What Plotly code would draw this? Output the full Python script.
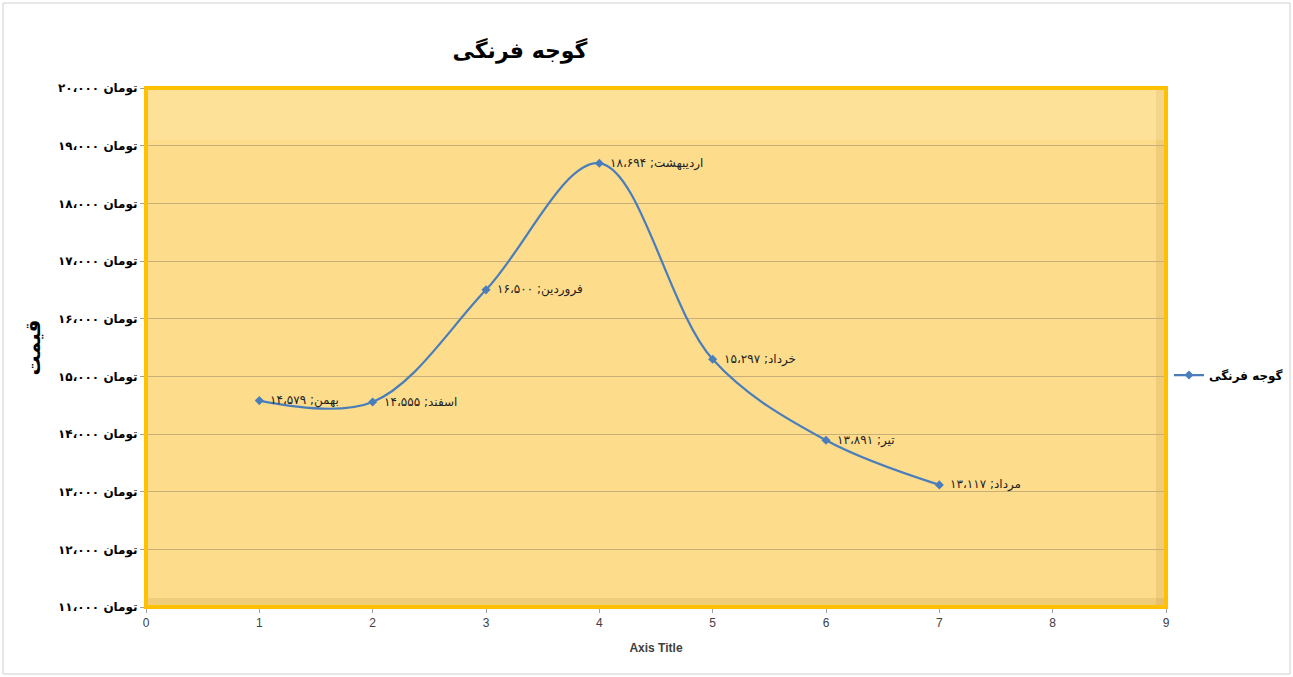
import plotly.graph_objects as go

# ---- data ----
months = ["بهمن", "اسفند", "فروردین", "اردیبهشت", "خرداد", "تیر", "مرداد"]
x_pos = [1, 2, 3, 4, 5, 6, 7]
prices = [14579, 14555, 16500, 18694, 15297, 13891, 13117]
y_ticks = [11000, 12000, 13000, 14000, 15000, 16000, 17000, 18000, 19000, 20000]
x_ticks = [0, 1, 2, 3, 4, 5, 6, 7, 8, 9]
series_name = "گوجه فرنگی"
chart_title = "گوجه فرنگی"
y_title = "قیمت"
x_title = "Axis Title"
currency = "تومان"

FA = str.maketrans("0123456789,", "۰۱۲۳۴۵۶۷۸۹،")


def fa(n):
    return f"{n:,}".translate(FA)


labels = [f"{m}; {fa(v)}" for m, v in zip(months, prices)]
# LTR embedding: number on the left, currency word on the right (as in the reference)
y_ticktext = [f"\u202a{fa(v)} {currency}\u202c" for v in y_ticks]

W, H = 1293, 677
L, R, T, B = 146, 127, 88, 70
pw, ph = W - L - R, H - T - B

fig = go.Figure()
fig.add_trace(go.Scatter(
    x=x_pos, y=prices, mode="lines+markers", name=series_name,
    line=dict(color="#4A7EBB", width=2.25, shape="spline", smoothing=1.0),
    marker=dict(symbol="diamond", size=7, color="#4A7EBB"),
    cliponaxis=False,
))

annotations = [
    dict(x=xv, y=yv, text=t, showarrow=False, xanchor="left", yanchor="middle",
         xshift=9, font=dict(family="DejaVu Sans", size=12, color="#222222"))
    for xv, yv, t in zip(x_pos, prices, labels)
]


def px_x(p):
    return (p - L) / pw


def px_y(p):
    return (H - B - p) / ph


shapes = [
    # outer chart border
    dict(type="rect", xref="paper", yref="paper",
         x0=px_x(3), x1=px_x(1290), y0=px_y(674), y1=px_y(3),
         line=dict(color="#D0D0D0", width=1), fillcolor="rgba(0,0,0,0)", layer="below"),
    # subtle bevel shading (right and bottom)
    dict(type="rect", xref="paper", yref="paper", x0=px_x(1156), x1=1, y0=0, y1=1,
         line=dict(width=0), fillcolor="rgba(200,160,70,0.25)", layer="below"),
    dict(type="rect", xref="paper", yref="paper", x0=0, x1=1, y0=0, y1=px_y(598),
         line=dict(width=0), fillcolor="rgba(200,160,70,0.25)", layer="below"),
    # lighter top band
    dict(type="rect", xref="paper", yref="paper", x0=0, x1=1, y0=px_y(140), y1=1,
         line=dict(width=0), fillcolor="rgba(255,240,190,0.25)", layer="below"),
    # gold plot border
    dict(type="rect", xref="paper", yref="paper", x0=0, x1=1, y0=0, y1=1,
         line=dict(color="#FFC000", width=4), fillcolor="rgba(0,0,0,0)", layer="above"),
]

fig.update_layout(
    width=W, height=H,
    margin=dict(l=L, r=R, t=T, b=B, autoexpand=False),
    paper_bgcolor="white",
    plot_bgcolor="#FDDC8C",
    shapes=shapes,
    annotations=annotations,
    title=dict(text=f"<b>{chart_title}</b>", xref="paper", x=px_x(520), xanchor="center",
               yref="container", y=1 - 50 / H, yanchor="middle",
               font=dict(family="DejaVu Sans", size=22, color="black")),
    xaxis=dict(range=[0, 9], tickvals=x_ticks, showgrid=False, zeroline=False,
               ticks="outside", ticklen=5, tickcolor="#A0A0A0",
               tickfont=dict(family="Liberation Sans", size=12, color="#404040"),
               showline=False,
               title=dict(text=f"<b>{x_title}</b>", standoff=14,
                          font=dict(family="Liberation Sans", size=12, color="#404040"))),
    yaxis=dict(range=[11000, 20000], tickvals=y_ticks, ticktext=y_ticktext,
               showgrid=True, gridcolor="#C8AF78", gridwidth=1, zeroline=False,
               ticks="outside", ticklen=5, tickcolor="#A0A0A0",
               tickfont=dict(family="DejaVu Sans", size=12, color="black", weight="bold"),
               title=dict(text=f"<b>{y_title}</b>", standoff=12,
                          font=dict(family="DejaVu Sans", size=20, color="black"))),
    showlegend=True,
    legend=dict(x=px_x(1288), y=px_y(375), xanchor="right", yanchor="middle",
                bgcolor="rgba(0,0,0,0)", itemwidth=30,
                font=dict(family="DejaVu Sans", size=12, color="black", weight="bold")),
)

fig.write_html("out.html", config={"responsive": False, "displayModeBar": False},
               post_script="document.body.style.margin='0';document.body.style.overflow='hidden';")
